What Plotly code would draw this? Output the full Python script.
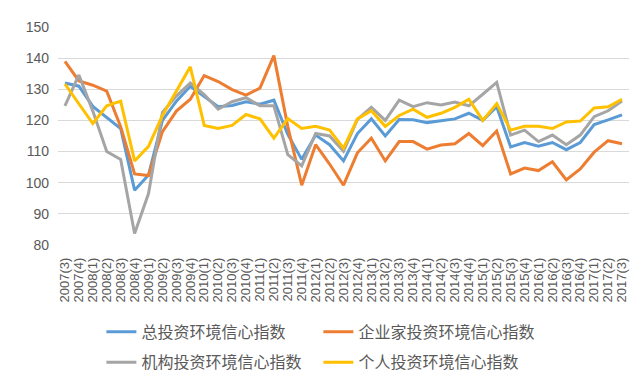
import plotly.graph_objects as go

quarters = ["2007(3)", "2007(4)",
            "2008(1)", "2008(2)", "2008(3)", "2008(4)",
            "2009(1)", "2009(2)", "2009(3)", "2009(4)",
            "2010(1)", "2010(2)", "2010(3)", "2010(4)",
            "2011(1)", "2011(2)", "2011(3)", "2011(4)",
            "2012(1)", "2012(2)", "2012(3)", "2012(4)",
            "2013(1)", "2013(2)", "2013(3)", "2013(4)",
            "2014(1)", "2014(2)", "2014(3)", "2014(4)",
            "2015(1)", "2015(2)", "2015(3)", "2015(4)",
            "2016(1)", "2016(2)", "2016(3)", "2016(4)",
            "2017(1)", "2017(2)", "2017(3)"]

total_idx = [132.0, 131.0, 124.5, 121.0, 117.4, 97.6, 102.5, 120.0, 126.2, 131.0,
             127.8, 124.4, 124.8, 126.0, 125.2, 126.5, 115.5, 107.5, 115.3, 112.2,
             107.0, 115.8, 120.5, 115.0, 120.3, 120.2, 119.3, 119.8, 120.5, 122.3,
             120.0, 124.4, 111.5, 112.9, 111.7, 112.9, 110.6, 112.9, 118.7, 120.2, 121.8]

entrepreneur_idx = [139.0, 132.7, 131.3, 129.4, 118.0, 102.8, 102.3, 116.4, 123.0, 126.8,
                    134.4, 132.5, 129.9, 128.1, 130.4, 140.8, 118.0, 99.2, 112.2, 106.0,
                    99.2, 109.6, 114.3, 107.0, 113.2, 113.2, 110.8, 112.1, 112.5, 115.8,
                    111.9, 116.6, 102.8, 104.7, 103.9, 106.7, 100.9, 104.4, 109.8, 113.5, 112.5]

institution_idx = [124.7, 134.6, 123.0, 110.0, 107.5, 83.7, 96.5, 122.6, 127.8, 132.0,
                   128.3, 123.6, 126.0, 127.3, 124.7, 124.7, 109.0, 105.4, 115.8, 115.0,
                   110.1, 120.3, 124.2, 120.0, 126.5, 124.4, 125.7, 125.0, 125.9, 124.7,
                   128.4, 132.2, 115.3, 116.9, 113.2, 115.3, 112.2, 115.3, 121.2, 123.1, 126.2]

individual_idx = [131.7, 125.2, 119.0, 124.7, 126.2, 107.0, 111.7, 121.6, 129.4, 137.2,
                  118.4, 117.4, 118.4, 121.9, 120.5, 114.3, 120.6, 117.4, 118.1, 116.9,
                  111.1, 120.5, 123.1, 118.1, 121.6, 123.6, 121.0, 122.3, 124.2, 126.8,
                  120.0, 125.4, 116.9, 118.1, 118.1, 117.4, 119.5, 119.8, 124.0, 124.4, 126.8]

names = ["总投资环境信心指数", "企业家投资环境信心指数", "机构投资环境信心指数", "个人投资环境信心指数"]
colors = ["#5B9BD5", "#ED7D31", "#A5A5A5", "#FFC000"]
series = [total_idx, entrepreneur_idx, institution_idx, individual_idx]
legend_ids = ["legend", "legend2", "legend3", "legend4"]
legend_pos = [(0.076, -0.32), (0.456, -0.32), (0.076, -0.46), (0.456, -0.46)]

fig = go.Figure()
for name, color, vals, lg in zip(names, colors, series, legend_ids):
    fig.add_trace(go.Scatter(
        x=quarters, y=vals, mode="lines", name=name,
        line=dict(color=color, width=3),
        legend=lg,
    ))

legend_font = dict(family="Noto Sans CJK SC, sans-serif", size=16, color="#595959")
legend_layout = {}
for lg, (lx, ly) in zip(legend_ids, legend_pos):
    legend_layout[lg] = dict(orientation="h", x=lx, xanchor="left", y=ly, yanchor="top",
                             font=legend_font, bgcolor="rgba(0,0,0,0)", itemwidth=30)

fig.update_layout(
    width=640, height=384,
    margin=dict(l=50, r=19, t=19, b=141),
    plot_bgcolor="white", paper_bgcolor="white",
    font=dict(family="Liberation Sans, Arial, sans-serif", color="#595959"),
    showlegend=True,
    xaxis=dict(type="category", range=[-0.5, len(quarters) - 0.5],
               tickmode="linear", dtick=1, tick0=0,
               tickangle=-90, tickfont=dict(size=13, color="#595959"),
               showgrid=False, showline=False, ticks="", zeroline=False,
               ticklabelstandoff=9),
    yaxis=dict(range=[80, 150], dtick=10, tickfont=dict(size=14, color="#595959"),
               showgrid=True, gridcolor="#D9D9D9", gridwidth=1,
               zeroline=False, showline=False, ticks="", ticklabelstandoff=8),
    **legend_layout,
)

fig.write_html("out.html")
